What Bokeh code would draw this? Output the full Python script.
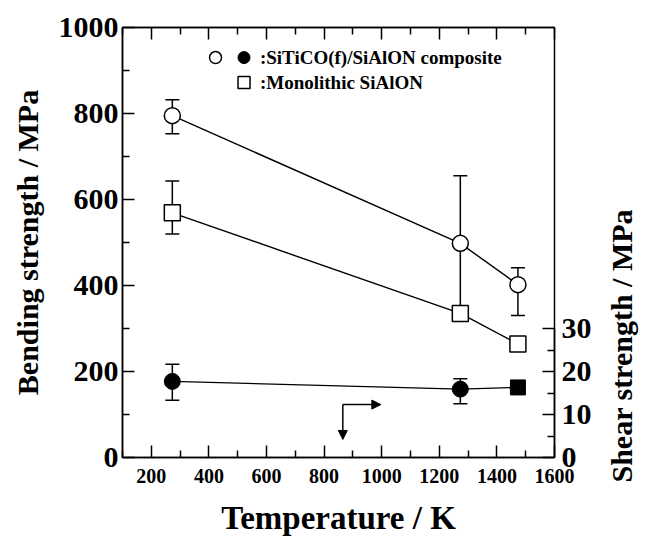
import math
from bokeh.plotting import figure
from bokeh.layouts import row
from bokeh.models import (Range1d, LinearAxis, FixedTicker, ColumnDataSource, Whisker,
                          TeeHead, Arrow, NormalHead, Title)
from bokeh.core.properties import value
from bokeh.embed import file_html
from bokeh.resources import INLINE

# ---------------- data ----------------
temperature = [273, 1273, 1473]

composite_bending = [795, 498, 402]
composite_bending_upper = [832, 655, 441]
composite_bending_lower = [753, 340, 330]

monolithic_bending = [569, 335, 264]
monolithic_bending_upper = [643, 335, 264]
monolithic_bending_lower = [520, 335, 264]

composite_shear = [17.7, 15.9, 16.3]
composite_shear_upper = [21.7, 18.3, 16.3]
composite_shear_lower = [13.3, 12.5, 16.3]

x_major = [200, 400, 600, 800, 1000, 1200, 1400, 1600]
x_minor = [100, 300, 500, 700, 900, 1100, 1300, 1500]
y_major = [0, 200, 400, 600, 800, 1000]
y_minor = [100, 300, 500, 700, 900]
shear_major = [0, 10, 20, 30]
shear_minor = [5, 15, 25]

legend_composite = ":SiTiCO(f)/SiAlON composite"
legend_monolithic = ":Monolithic SiAlON"
x_title = "Temperature / K"
y_title = "Bending strength / MPa"
y2_title = "Shear strength / MPa"

FONT = "Liberation Serif"

p = figure(width=600, height=541, output_backend="svg", toolbar_location=None,
           x_range=Range1d(100, 1600), y_range=Range1d(0, 1000),
           x_axis_type=None, y_axis_type=None,
           min_border_left=122, min_border_right=46, min_border_top=27, min_border_bottom=84)
p.extra_y_ranges = {"shear": Range1d(0, 100)}
p.outline_line_color = "black"
p.outline_line_width = 1.5
p.background_fill_color = "white"
p.border_fill_color = "white"


def style_axis(ax, size):
    ax.axis_line_color = "black"
    ax.axis_line_width = 1.5
    ax.major_tick_in = 12
    ax.major_tick_out = 0
    ax.minor_tick_in = 7
    ax.minor_tick_out = 0
    ax.major_tick_line_width = 1.5
    ax.minor_tick_line_width = 1.5
    ax.major_label_text_font = FONT
    ax.major_label_text_font_style = "bold"
    ax.major_label_text_font_size = size
    ax.major_label_text_color = "black"
    ax.axis_label_text_font = FONT
    ax.axis_label_text_font_style = "bold"
    ax.axis_label_text_font_size = "30px"
    ax.axis_label_text_color = "black"


xb = LinearAxis(ticker=FixedTicker(ticks=x_major, minor_ticks=x_minor), axis_label=x_title)
style_axis(xb, "20px")
xb.major_label_standoff = 11
xb.axis_label_text_font_size = "33px"
xb.axis_label_text_line_height = 1.0
xb.axis_label_standoff = 14
p.add_layout(xb, "below")

xt = LinearAxis(ticker=FixedTicker(ticks=x_major, minor_ticks=x_minor))
style_axis(xt, "20px")
xt.major_label_overrides = {t: "" for t in x_major}
xt.major_label_standoff = 0
p.add_layout(xt, "above")

yl = LinearAxis(ticker=FixedTicker(ticks=y_major, minor_ticks=y_minor), axis_label=y_title)
style_axis(yl, "30px")
yl.major_label_standoff = 4
yl.axis_label_standoff = 12
p.add_layout(yl, "left")

yr = LinearAxis(y_range_name="shear", ticker=FixedTicker(ticks=shear_major, minor_ticks=shear_minor),
                bounds=(0, 30))
style_axis(yr, "30px")
yr.major_label_standoff = 7
p.add_layout(yr, "right")

# ---------------- error bars ----------------
src_c = ColumnDataSource(dict(x=temperature, y=composite_bending,
                              up=composite_bending_upper, lo=composite_bending_lower))
src_m = ColumnDataSource(dict(x=temperature, y=monolithic_bending,
                              up=monolithic_bending_upper, lo=monolithic_bending_lower))
src_s = ColumnDataSource(dict(x=temperature, y=composite_shear,
                              up=composite_shear_upper, lo=composite_shear_lower))

for src, rng in ((src_c, "default"), (src_m, "default"), (src_s, "shear")):
    w = Whisker(base="x", upper="up", lower="lo", dimension="height", source=src,
                y_range_name=rng, level="underlay", line_color="black", line_width=1.5,
                upper_head=TeeHead(size=14, line_color="black", line_width=1.5),
                lower_head=TeeHead(size=14, line_color="black", line_width=1.5))
    p.add_layout(w)

# ---------------- lines & markers ----------------
p.line("x", "y", source=src_c, line_color="black", line_width=1.4)
p.line("x", "y", source=src_m, line_color="black", line_width=1.4)
p.line("x", "y", source=src_s, y_range_name="shear", line_color="black", line_width=1.4)

p.scatter("x", "y", source=src_c, marker="circle", size=16, fill_color="white",
          line_color="black", line_width=1.5)
p.scatter("x", "y", source=src_m, marker="square", size=16, fill_color="white",
          line_color="black", line_width=1.5)
src_s_c = ColumnDataSource(dict(x=temperature[:2], y=composite_shear[:2]))
src_s_s = ColumnDataSource(dict(x=temperature[2:], y=composite_shear[2:]))
p.scatter("x", "y", source=src_s_c, y_range_name="shear", marker="circle", size=16,
          fill_color="black", line_color="black")
p.scatter("x", "y", source=src_s_s, y_range_name="shear", marker="square", size=15,
          fill_color="black", line_color="black")

# ---------------- legend ----------------
leg_x_open, leg_x_filled, leg_x_text = 423, 522, 577
leg_y1, leg_y2 = 930, 872
p.scatter([leg_x_open], [leg_y1], marker="circle", size=12, fill_color="white",
          line_color="black", line_width=1.5)
p.scatter([leg_x_filled], [leg_y1], marker="circle", size=12, fill_color="black",
          line_color="black")
p.scatter([leg_x_filled], [leg_y2], marker="square", size=12, fill_color="white",
          line_color="black", line_width=1.5)
p.text([leg_x_text, leg_x_text], [leg_y1, leg_y2], text=[legend_composite, legend_monolithic],
       text_font=value(FONT), text_font_style="bold", text_font_size="19px",
       text_baseline="middle", text_align="left", text_color="black")

# ---------------- arrow ----------------
corner_x, corner_y = 865, 123
p.add_layout(Arrow(x_start=corner_x, y_start=corner_y, x_end=997, y_end=corner_y,
                   line_color="black", line_width=1.5,
                   end=NormalHead(size=9, fill_color="black", line_color="black")))
p.add_layout(Arrow(x_start=corner_x, y_start=corner_y, x_end=corner_x, y_end=42,
                   line_color="black", line_width=1.5,
                   end=NormalHead(size=9, fill_color="black", line_color="black")))

# ---------------- right-hand title panel (title on its left side reads upward) ----------------
side = figure(width=48, height=541, output_backend="svg", toolbar_location=None,
              x_range=Range1d(0, 1), y_range=Range1d(0, 1),
              x_axis_type=None, y_axis_type=None, min_border=0)
side.outline_line_color = None
side.background_fill_color = "white"
side.border_fill_color = "white"
side.title = None
side.add_layout(Title(text=y2_title, align="left", offset=-25, standoff=4,
                      text_font=FONT, text_font_style="bold", text_font_size="30px",
                      text_color="black"), "left")

layout = row(p, side)
open("out.html", "w").write(file_html(layout, INLINE))
